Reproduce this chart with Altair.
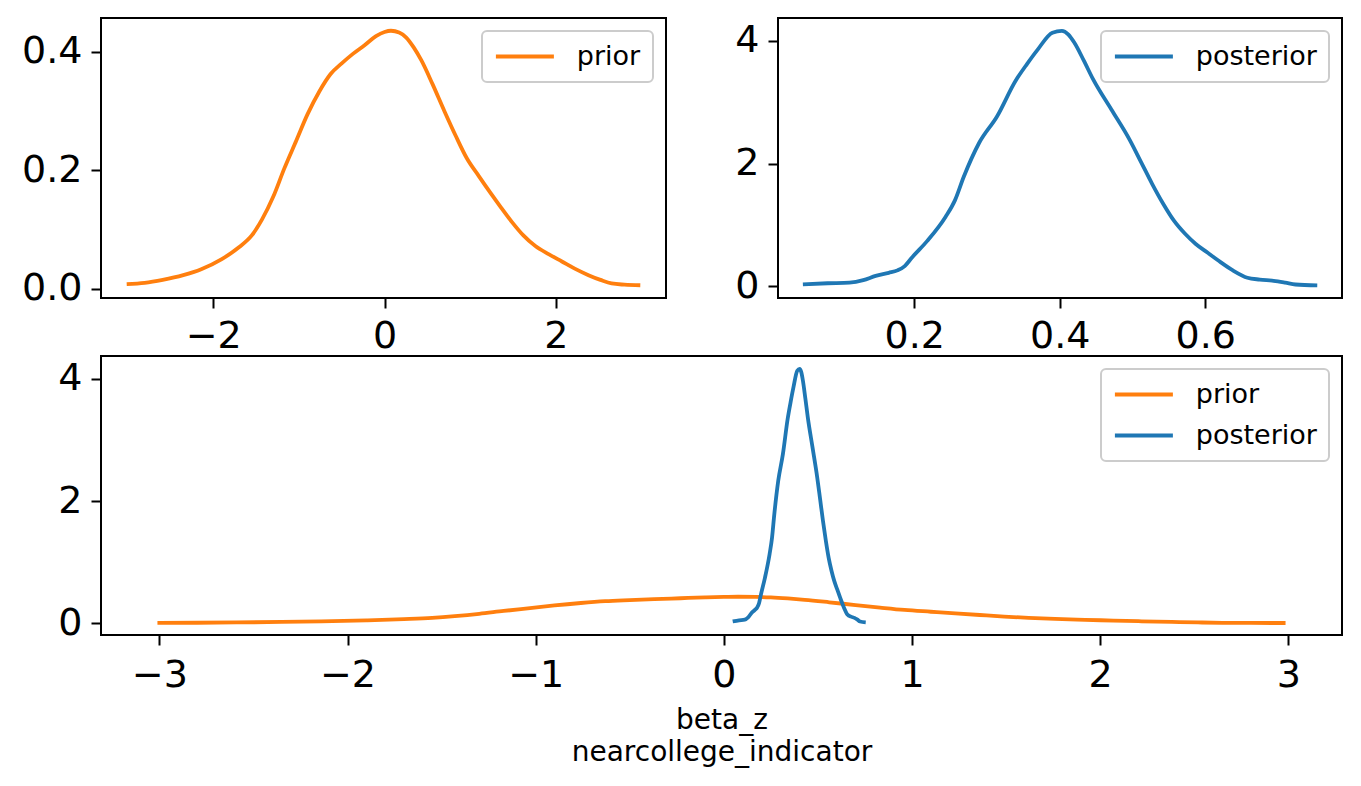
import altair as alt
import pandas as pd

# Kernel density estimates of beta_z (nearcollege_indicator)
prior_x = [-3.01, -2.8, -2.59, -2.35, -2.14, -1.9, -1.70, -1.55, -1.43, -1.3,
           -1.17, -1.03, -0.90, -0.76, -0.63, -0.5, -0.37, -0.23, -0.10, 0.0,
           0.075, 0.17, 0.25, 0.34, 0.43, 0.56, 0.70, 0.83, 0.96, 1.1,
           1.23, 1.36, 1.49, 1.62, 1.76, 1.92, 2.07, 2.22, 2.38, 2.52,
           2.65, 2.8, 2.985]
prior_y = [0.008, 0.010, 0.015, 0.023, 0.033, 0.050, 0.070, 0.090, 0.117, 0.155,
           0.203, 0.250, 0.294, 0.333, 0.362, 0.380, 0.396, 0.411, 0.426, 0.433,
           0.435, 0.432, 0.424, 0.407, 0.385, 0.345, 0.299, 0.258, 0.220, 0.190,
           0.163, 0.137, 0.112, 0.090, 0.072, 0.058, 0.046, 0.034, 0.023, 0.015,
           0.009, 0.007, 0.006]

post_x = [0.047, 0.081, 0.111, 0.13, 0.147, 0.165, 0.177, 0.187, 0.197, 0.218,
          0.243, 0.256, 0.268, 0.289, 0.314, 0.339, 0.355, 0.370, 0.390, 0.403,
          0.412, 0.420, 0.433, 0.446, 0.471, 0.496, 0.512, 0.527, 0.542, 0.557,
          0.572, 0.587, 0.603, 0.618, 0.638, 0.658, 0.675, 0.694, 0.71, 0.724,
          0.754]
post_y = [0.033, 0.05, 0.06, 0.10, 0.17, 0.22, 0.26, 0.33, 0.47, 0.74,
          1.13, 1.40, 1.78, 2.33, 2.77, 3.34, 3.62, 3.86, 4.13, 4.16,
          4.10, 3.97, 3.68, 3.37, 2.88, 2.39, 2.02, 1.67, 1.35, 1.07,
          0.86, 0.69, 0.55, 0.42, 0.26, 0.14, 0.11, 0.09, 0.06, 0.03,
          0.016]

series_names = ["prior", "posterior"]
series_colors = ["#ff7f0e", "#1f77b4"]
x_title = ["beta_z", "nearcollege_indicator"]

prior = pd.DataFrame({"x": prior_x, "density": prior_y, "dist": "prior"})
post = pd.DataFrame({"x": post_x, "density": post_y, "dist": "posterior"})
both = pd.concat([prior, post], ignore_index=True)

FONT = "DejaVu Sans"
COLOR_OF = dict(zip(series_names, series_colors))
LINE_W = 3.8


def make_legend():
    # a flat custom path keeps the entry height set by the label, not the symbol
    return alt.Legend(
        title=None, orient="top-right", offset=13, padding=12, cornerRadius=5,
        fillColor="white", strokeColor="#cccccc",
        symbolType="M-2.5,0H2.5", symbolSize=538, symbolStrokeWidth=LINE_W,
        symbolOffset=17.4, labelOffset=38.4,
        labelFontSize=27, labelFont=FONT, labelColor="black",
        rowPadding=13, labelLimit=400,
    )


def panel(df, names, xdom, ydom, xticks, yticks, xfmt, yfmt, w, h,
          xtitle=None, xpad=9):
    color = alt.Color(
        "dist:N",
        scale=alt.Scale(domain=names, range=[COLOR_OF[n] for n in names]),
        sort=names, legend=make_legend(),
    )
    x = alt.X("x:Q", scale=alt.Scale(domain=xdom, nice=False, zero=False),
              axis=alt.Axis(values=xticks, format=xfmt, title=xtitle,
                            labelPadding=xpad, titlePadding=12,
                            titleLineHeight=32))
    y = alt.Y("density:Q", scale=alt.Scale(domain=ydom, nice=False, zero=False),
              axis=alt.Axis(values=yticks, format=yfmt, title=None))
    return (alt.Chart(df)
            .mark_line(strokeWidth=LINE_W, interpolate="monotone")
            .encode(x=x, y=y, color=color, detail="dist:N")
            .properties(width=w, height=h))


top_left = panel(prior, ["prior"], [-3.31, 3.285], [-0.0155, 0.4565],
                 [-2, 0, 2], [0.0, 0.2, 0.4], "d", ".1f", 565, 280)
top_right = panel(post, ["posterior"], [0.0128, 0.788], [-0.19, 4.37],
                  [0.2, 0.4, 0.6], [0, 2, 4], ".1f", "d", 564, 280)
bottom = panel(both, series_names, [-3.31, 3.285], [-0.19, 4.37],
               [-3, -2, -1, 0, 1, 2, 3], [0, 2, 4], "d", "d", 1241, 279,
               xtitle=x_title, xpad=11)

top_row = (alt.hconcat(top_left, top_right, spacing=112, bounds="flush")
           .resolve_scale(color="independent")
           .resolve_legend(color="independent"))

chart = (alt.vconcat(top_row, bottom, spacing=-2)
         .resolve_scale(color="independent")
         .resolve_legend(color="independent")
         .properties(padding={"left": 20, "top": 17, "right": 10, "bottom": 10})
         .configure(font=FONT)
         .configure_view(stroke="black", strokeWidth=2)
         .configure_axis(labelFont=FONT, labelFontSize=38, labelColor="black",
                         tickColor="black", tickWidth=2, tickSize=10,
                         labelPadding=9, domain=False, grid=False,
                         titleFont=FONT, titleFontSize=28,
                         titleFontWeight="normal", titleColor="black",
                         labelFlush=False, labelOverlap=False)
         .configure_legend(strokeWidth=2))

chart.save("out.html", embed_options={"renderer": "svg", "actions": False})
